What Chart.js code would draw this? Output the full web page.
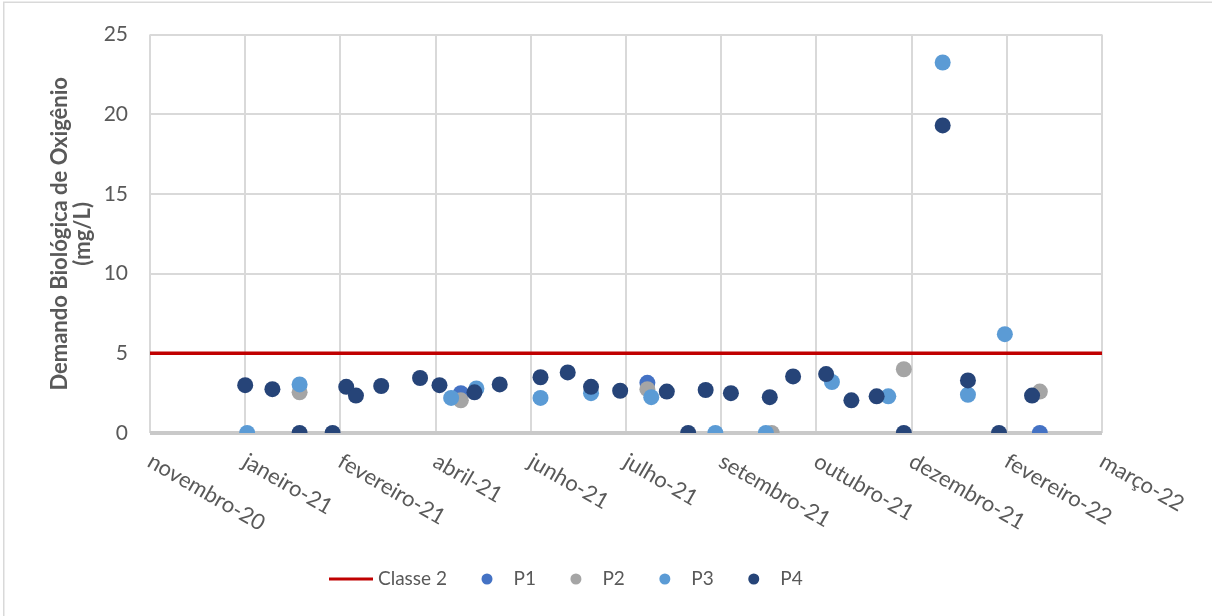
<!DOCTYPE html>
<html lang="pt">
<head>
<meta charset="utf-8">
<title>Demanda Biológica de Oxigênio</title>
<script src="https://cdn.jsdelivr.net/npm/chart.js@4.4.1/dist/chart.umd.min.js"></script>
<style>
  html, body { margin: 0; padding: 0; background: #ffffff; }
  #wrap { position: relative; width: 1212px; height: 616px; }
</style>
</head>
<body>
<div id="wrap"><canvas id="c" width="1212" height="616"></canvas></div>
<script>
// Axis ticks (date axis, one tick every 49 days)
const tickDates = ['2020-11-18', '2021-01-06', '2021-02-24', '2021-04-14', '2021-06-02', '2021-07-21',
                   '2021-09-08', '2021-10-27', '2021-12-15', '2022-02-02', '2022-03-23'];
const tickLabels = ['novembro-20', 'janeiro-21', 'fevereiro-21', 'abril-21', 'junho-21', 'julho-21',
                    'setembro-21', 'outubro-21', 'dezembro-21', 'fevereiro-22', 'março-22'];

// Reference limit (Classe 2), mg/L
const classe2Value = 5;

// Sampling points
const p1Dates = ['2021-04-27', '2021-08-01', '2022-02-19'];
const p1Values = [2.5, 3.15, 0];

const p2Dates = ['2021-02-03', '2021-04-27', '2021-08-01', '2021-10-04', '2021-12-11', '2022-02-19'];
const p2Values = [2.55, 2.05, 2.75, 0, 4.0, 2.6];

const p3Dates = ['2021-01-07', '2021-02-03', '2021-04-22', '2021-05-05', '2021-06-07', '2021-07-03',
                 '2021-08-03', '2021-09-05', '2021-10-01', '2021-11-04', '2021-12-03', '2021-12-31',
                 '2022-01-13', '2022-02-01'];
const p3Values = [0, 3.05, 2.2, 2.8, 2.2, 2.5, 2.25, 0, 0, 3.2, 2.3, 23.25, 2.4, 6.2];

const p4Dates = ['2021-01-06', '2021-01-20', '2021-02-03', '2021-02-20', '2021-02-27', '2021-03-04',
                 '2021-03-17', '2021-04-06', '2021-04-16', '2021-05-04', '2021-05-17', '2021-06-07',
                 '2021-06-21', '2021-07-03', '2021-07-18', '2021-08-11', '2021-08-22', '2021-08-31',
                 '2021-09-13', '2021-10-03', '2021-10-15', '2021-11-01', '2021-11-14', '2021-11-27',
                 '2021-12-11', '2021-12-31', '2022-01-13', '2022-01-29', '2022-02-15'];
const p4Values = [3.0, 2.75, 0, 0, 2.9, 2.35, 2.95, 3.45, 3.0, 2.55, 3.05, 3.5,
                  3.8, 2.9, 2.65, 2.6, 0, 2.7, 2.5, 2.25, 3.55, 3.7, 2.05, 2.3,
                  0, 19.3, 3.3, 0, 2.35];

const dayNumber = d => Date.parse(d) / 86400000;
const toPoints = (dates, values) => dates.map((d, i) => ({ x: dayNumber(d), y: values[i] }));

const xMin = dayNumber(tickDates[0]);
const xMax = dayNumber(tickDates[tickDates.length - 1]);

const FONT = 'Lato, "Liberation Sans", sans-serif';
const TEXT_COLOR = '#595959';

// Outer frame of the chart object
const framePlugin = {
  id: 'frame',
  beforeDraw(chart) {
    const ctx = chart.ctx;
    ctx.save();
    ctx.fillStyle = '#ffffff';
    ctx.fillRect(0, 0, chart.width, chart.height);
    ctx.strokeStyle = '#d9d9d9';
    ctx.lineWidth = 1.5;
    ctx.strokeRect(3.75, 2.25, chart.width + 20, chart.height + 20);
    ctx.restore();
  }
};

// Rotated date labels under the horizontal axis
const xLabelPlugin = {
  id: 'xLabels',
  afterDraw(chart) {
    const ctx = chart.ctx;
    const scale = chart.scales.x;
    const bottom = chart.chartArea.bottom;
    ctx.save();
    ctx.font = '22px ' + FONT;
    ctx.fillStyle = TEXT_COLOR;
    ctx.textAlign = 'left';
    ctx.textBaseline = 'top';
    scale.ticks.forEach((t, i) => {
      const px = scale.getPixelForValue(t.value);
      ctx.save();
      ctx.translate(px + 5, bottom + 17);
      ctx.rotate(30 * Math.PI / 180);
      ctx.fillText(tickLabels[i], 0, 0);
      ctx.restore();
    });
    ctx.restore();
  }
};

// Legend row at the bottom
const legendPlugin = {
  id: 'bottomLegend',
  afterDraw(chart) {
    const ctx = chart.ctx;
    const y = 579;
    let x = 329;
    ctx.save();
    ctx.font = '19px ' + FONT;
    ctx.textBaseline = 'middle';
    ctx.textAlign = 'left';
    chart.data.datasets.forEach(ds => {
      let textX;
      if (ds.showLine) {
        ctx.strokeStyle = ds.borderColor;
        ctx.lineWidth = 3;
        ctx.beginPath();
        ctx.moveTo(x, y);
        ctx.lineTo(x + 44, y);
        ctx.stroke();
        textX = x + 49;
      } else {
        const cx = x + 40;
        ctx.fillStyle = ds.backgroundColor;
        ctx.beginPath();
        ctx.arc(cx, y, 5.5, 0, Math.PI * 2);
        ctx.fill();
        textX = cx + 26.5;
      }
      ctx.fillStyle = TEXT_COLOR;
      ctx.fillText(ds.label, textX, y);
      x = textX + ctx.measureText(ds.label).width;
    });
    ctx.restore();
  }
};

const pointSeries = (label, color, order, dates, values) => ({
  label,
  data: toPoints(dates, values),
  backgroundColor: color,
  borderColor: color,
  borderWidth: 0,
  pointRadius: 8,
  pointHoverRadius: 8,
  showLine: false,
  order
});

new Chart(document.getElementById('c'), {
  type: 'scatter',
  data: {
    datasets: [
      {
        label: 'Classe 2',
        data: [{ x: xMin, y: classe2Value }, { x: xMax, y: classe2Value }],
        showLine: true,
        borderColor: '#c00000',
        backgroundColor: '#c00000',
        borderWidth: 3.5,
        pointRadius: 0,
        pointHoverRadius: 0,
        order: 5
      },
      pointSeries('P1', '#4472c4', 4, p1Dates, p1Values),
      pointSeries('P2', '#a5a5a5', 3, p2Dates, p2Values),
      pointSeries('P3', '#5b9bd5', 2, p3Dates, p3Values),
      pointSeries('P4', '#264478', 1, p4Dates, p4Values)
    ]
  },
  options: {
    responsive: false,
    animation: false,
    devicePixelRatio: 1,
    layout: { padding: { top: 31, right: 110, left: 0, bottom: 0 } },
    plugins: {
      legend: { display: false },
      tooltip: { enabled: false }
    },
    scales: {
      x: {
        type: 'linear',
        min: xMin,
        max: xMax,
        afterBuildTicks(scale) {
          scale.ticks = tickDates.map(d => ({ value: dayNumber(d) }));
        },
        afterFit(scale) { scale.height = 183; },
        ticks: { display: false },
        border: { display: false },
        grid: { color: '#d9d9d9', lineWidth: 2, drawTicks: false }
      },
      y: {
        min: 0,
        max: 25,
        afterFit(scale) { scale.width = 150; },
        ticks: {
          stepSize: 5,
          padding: 22,
          color: TEXT_COLOR,
          font: { family: FONT, size: 21 }
        },
        border: { display: false },
        grid: {
          drawTicks: false,
          color: ctx => ctx.tick && ctx.tick.value === 0 ? '#c9c9c9' : '#d9d9d9',
          lineWidth: ctx => ctx.tick && ctx.tick.value === 0 ? 4 : 2
        },
        title: {
          display: true,
          text: ['Demando Biológica de Oxigênio', '(mg/L)'],
          color: TEXT_COLOR,
          font: { family: FONT, size: 22, weight: 'bold', lineHeight: 1.05 },
          padding: { top: 48, bottom: 0 }
        }
      }
    }
  },
  plugins: [framePlugin, xLabelPlugin, legendPlugin]
});
</script>
</body>
</html>
